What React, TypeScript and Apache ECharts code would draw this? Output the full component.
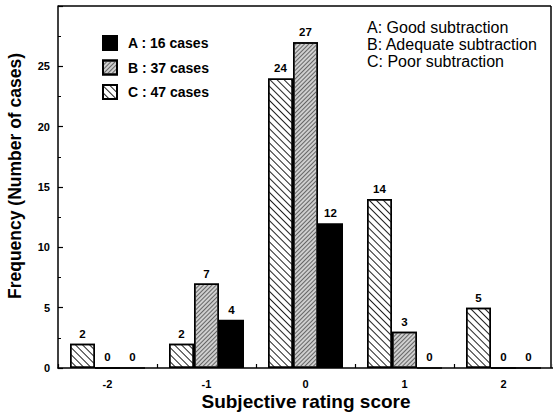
import React, { useEffect, useRef } from "react";
import * as echarts from "echarts";

const categories = ["-2", "-1", "0", "1", "2"];
const seriesNames = ["A : 16 cases", "B : 37 cases", "C : 47 cases"];
const valuesA = [0, 4, 12, 0, 0];
const valuesB = [0, 7, 27, 3, 0];
const valuesC = [2, 2, 24, 14, 5];
const noteLines = ["A: Good subtraction", "B: Adequate subtraction", "C: Poor subtraction"];
const yTitle = "Frequency (Number of cases)";
const xTitle = "Subjective rating score";

const FONT = "'Liberation Sans', Arial, Helvetica, sans-serif";

export default function App() {
  const ref = useRef<HTMLDivElement>(null);
  useEffect(() => {
    if (!ref.current) return;
    const chart = echarts.init(ref.current, null, { renderer: "svg" });
    const label = {
      show: true,
      position: "top" as const,
      distance: 4,
      color: "#000",
      fontFamily: FONT,
      fontWeight: "bold" as const,
      fontSize: 11.5,
    };
    const border = { borderColor: "#000", borderWidth: 1.5 };
    chart.setOption({
      animation: false,
      backgroundColor: "#fff",
      textStyle: { fontFamily: FONT },
      grid: { left: 58, right: -3, top: 6, bottom: 48, containLabel: false },
      legend: {
        orient: "vertical",
        left: 102,
        top: 35,
        padding: 0,
        itemWidth: 14,
        itemHeight: 14,
        itemGap: 8.5,
        icon: "rect",
        data: seriesNames,
        textStyle: {
          fontFamily: FONT,
          fontWeight: "bold",
          fontSize: 14,
          color: "#000",
          padding: [0, 0, 0, 6],
        },
      },
      xAxis: {
        type: "category",
        data: categories,
        boundaryGap: true,
        axisLine: { lineStyle: { color: "#000", width: 1.5 } },
        axisTick: { show: true, inside: true, length: 4, alignWithLabel: false, lineStyle: { color: "#000", width: 1.2 } },
        axisLabel: { color: "#000", fontWeight: "bold", fontSize: 11, margin: 10, fontFamily: FONT },
        splitLine: { show: false },
      },
      yAxis: {
        type: "value",
        min: 0,
        max: 30,
        interval: 5,
        axisLine: { show: true, lineStyle: { color: "#000", width: 1.5 } },
        axisTick: { show: true, inside: true, length: 5, lineStyle: { color: "#000", width: 1.2 } },
        minorTick: { show: true, splitNumber: 2, length: 3, lineStyle: { color: "#000", width: 1 } },
        axisLabel: {
          color: "#000",
          fontWeight: "bold",
          fontSize: 11,
          margin: 8,
          fontFamily: FONT,
          formatter: (v: number) => (v === 30 ? "" : String(v)),
        },
        splitLine: { show: false },
      },
      series: [
        {
          name: seriesNames[2],
          type: "bar",
          data: valuesC,
          barWidth: 25,
          barGap: "0%",
          label,
          itemStyle: {
            color: "#ffffff",
            ...border,
            decal: {
              symbol: "rect",
              symbolSize: 1,
              dashArrayX: [1, 0],
              dashArrayY: [1, 3.2],
              rotation: Math.PI / 4,
              color: "#222222",
            },
          },
        },
        {
          name: seriesNames[1],
          type: "bar",
          data: valuesB,
          barWidth: 25,
          barGap: "0%",
          label,
          itemStyle: {
            color: "#cfcfcf",
            ...border,
            decal: {
              symbol: "rect",
              symbolSize: 1,
              dashArrayX: [1, 0],
              dashArrayY: [0.9, 1.8],
              rotation: -Math.PI / 4,
              color: "#666666",
            },
          },
        },
        {
          name: seriesNames[0],
          type: "bar",
          data: valuesA,
          barWidth: 25,
          barGap: "0%",
          label,
          itemStyle: { color: "#000000", ...border },
        },
      ],
      graphic: [
        {
          type: "line",
          shape: { x1: 58, y1: 6, x2: 551, y2: 6 },
          style: { stroke: "#000", lineWidth: 1.5 },
        },
        {
          type: "line",
          shape: { x1: 551, y1: 6, x2: 551, y2: 368 },
          style: { stroke: "#000", lineWidth: 1.5 },
        },
        ...noteLines.map((t, i) => ({
          type: "text",
          left: 367,
          top: 19 + i * 17,
          style: { text: t, fill: "#000", font: `16px ${FONT}` },
        })),
        {
          type: "text",
          x: 15,
          y: 176,
          rotation: Math.PI / 2,
          style: {
            text: yTitle,
            fill: "#000",
            font: `bold 17.5px ${FONT}`,
            align: "center",
            verticalAlign: "middle",
          },
        },
        {
          type: "text",
          x: 306,
          y: 401,
          style: {
            text: xTitle,
            fill: "#000",
            font: `bold 19px ${FONT}`,
            align: "center",
            verticalAlign: "middle",
          },
        },
      ],
    });
    return () => chart.dispose();
  }, []);
  return (
    <div
      ref={ref}
      style={{ position: "fixed", left: 0, top: 0, width: 553, height: 416, background: "#fff" }}
    />
  );
}
